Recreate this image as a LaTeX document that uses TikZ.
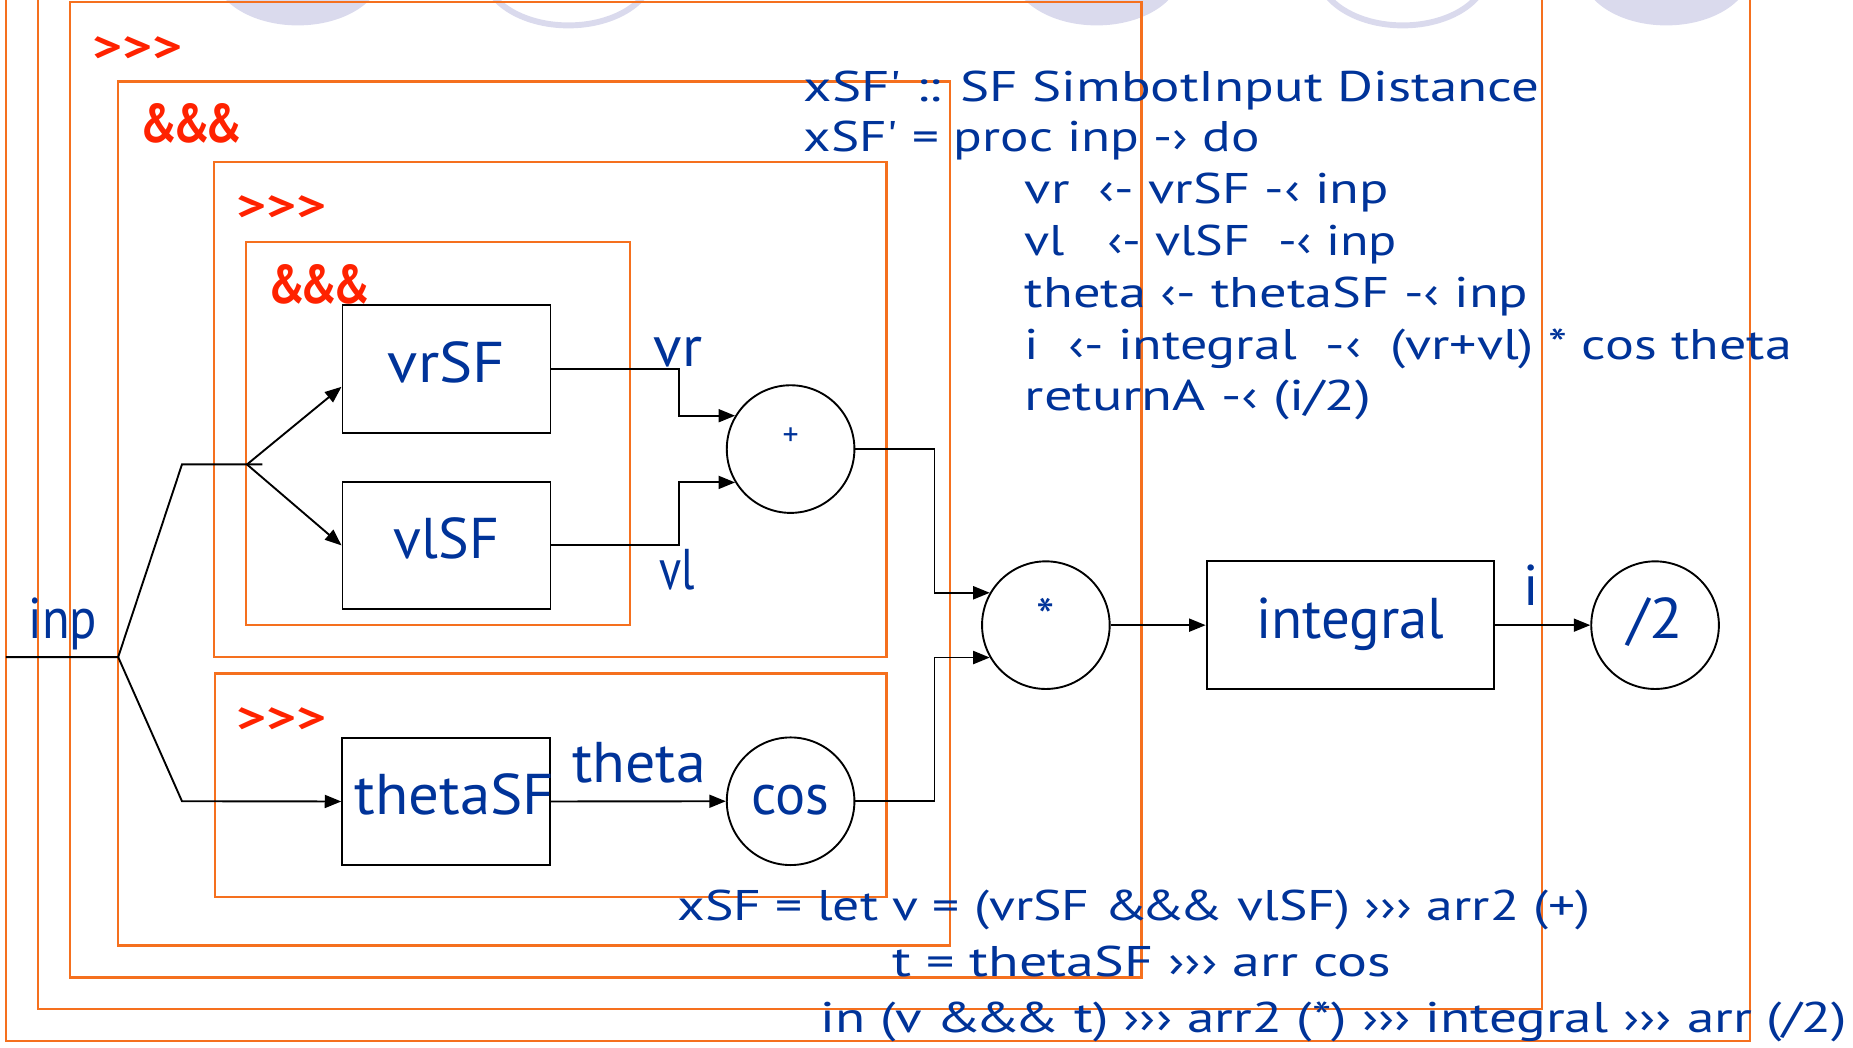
\documentclass[tikz,border=0pt]{standalone}
\usepackage{fontspec}
\usepackage{graphicx}
\newfontfamily\cf{PT Sans}
\usetikzlibrary{arrows.meta,calc}
\definecolor{codeblue}{RGB}{0,51,153}
\definecolor{lblred}{RGB}{255,34,0}
\definecolor{frameor}{RGB}{245,112,30}
\definecolor{deco}{RGB}{218,218,237}
\newcommand{\fw}[2]{\resizebox{#1}{\height}{#2}}
\newcommand{\fwh}[3]{\resizebox{#1}{#2}{#3}}
\newcommand{\sq}{\ifnum\XeTeXcharglyph"27>0 \XeTeXglyph\XeTeXcharglyph"27 \else '\fi}
\newcommand{\amps}{\&\kern-4pt\&\kern-4pt\&}
\begin{document}
\begin{tikzpicture}[x=1pt,y=-1pt,
  frame/.style={draw=frameor, line width=2pt},
  blk/.style={draw=black, line width=1.6pt, rectangle, minimum height=108pt, minimum width=176pt, inner sep=0pt, text=codeblue, font=\cf\fontsize{48.6}{50}\selectfont, text height=34pt, text depth=12pt},
  circ/.style={draw=black, line width=1.6pt, circle, minimum size=108pt, inner sep=0pt, text=codeblue, font=\cf\fontsize{48.6}{50}\selectfont, text height=34pt, text depth=12pt},
  code/.style={anchor=base west, inner sep=0pt, text=codeblue, font=\cf\fontsize{36.3}{40}\selectfont},
  lbl/.style={anchor=base west, inner sep=0pt, text=codeblue, font=\cf\fontsize{48.6}{50}\selectfont},
  op/.style={anchor=base west, inner sep=0pt, text=lblred, font=\cf\bfseries\fontsize{40}{40}\selectfont},
  wire/.style={draw=black, line width=1.6pt},
  arr/.style={wire, -{Triangle[length=14pt,width=11pt]}},
]
\useasboundingbox (0,0) rectangle (1568,886);
\begin{scope}
\clip (0,0) rectangle (1568,886);
% decorative template shapes
\fill[deco] (252,-25) ellipse [x radius=72, y radius=46.5];
\draw[deco, line width=5pt] (481,-25) ellipse [x radius=72, y radius=46.5];
\fill[deco] (928,-25) ellipse [x radius=72, y radius=46.5];
\draw[deco, line width=5pt] (1187,-25) ellipse [x radius=72, y radius=46.5];
\fill[deco] (1410,-25) ellipse [x radius=72, y radius=46.5];
% combinator frames
\draw[frame] (5,-20) rectangle (1481,881);
\draw[frame] (32,-20) rectangle (1305,854);
\draw[frame] (59,1.5) rectangle (966,827);
\draw[frame] (100,69) rectangle (804,800);
\draw[frame] (181,137) rectangle (750,556);
\draw[frame] (208,205) rectangle (533,529);
\draw[frame] (182,570) rectangle (750,759);
\end{scope}

% operator labels
\node[op] (o3) at (78,52) {\fwh{76pt}{21pt}{>>>}};
\node[op] (o4) at (119,121) {\fwh{86pt}{33pt}{\&\kern-4pt\&\kern-4pt\&}};
\node[op] (o5) at (200,187) {\fwh{76pt}{21pt}{>>>}};
\node[op] (o6) at (227,257) {\fwh{86pt}{33pt}{\&\kern-4pt\&\kern-4pt\&}};
\node[op] (o7) at (200,620) {\fwh{76pt}{21pt}{>>>}};

% blocks
\node[blk] (vrSF) at (377.8,312.3) {\fw{99pt}{vrSF}};
\node[blk] (vlSF) at (377.8,461.5) {\fw{89pt}{vlSF}};
\node[blk] (thetaSF) at (377.6,678.2) {\fw{169pt}{thetaSF}\hspace*{-14pt}};
\node[blk, minimum width=243pt] (integ) at (1142.5,529) {\fw{159pt}{integral}};
\node[circ, font=\cf\fontsize{27}{27}\selectfont, text height=0pt, text depth=6pt] (plus) at (669,380) {+};
\node[circ, font=\cf\fontsize{44}{44}\selectfont, text height=18pt, text depth=0pt] (star) at (885,529) {*};
\node[circ] (cosn) at (669,678) {\fw{66pt}{cos}};
\node[circ] (half) at (1400.5,529) {\fw{47pt}{/2}};

% wires
\coordinate (inpL) at (5,556);
\coordinate (fork) at (100,556);
\coordinate (up) at (154,393);
\coordinate (split) at (209,393);
\coordinate (stub) at (222,393);
\coordinate (dn) at (154,678);
\draw[wire] (inpL) -- (fork) -- (up) -- (stub);
\draw[arr] (split) -- ($(vrSF.west)+(0,15)$);
\draw[arr] (split) -- (vlSF.west);
\draw[arr] (fork) -- (dn) -- (thetaSF.west);
\draw[arr] (vrSF.east) -- ++(108,0) |- (plus.149);
\draw[arr] (vlSF.east) -- ++(108,0) |- (plus.211);
\draw[arr] (plus.east) -- ++(67,0) |- (star.150);
\draw[arr] (cosn.east) -- ++(67,0) |- (star.210);
\draw[arr] (thetaSF.east) -- (cosn.west);
\draw[arr] (star.east) -- (integ.west);
\draw[arr] (integ.east) -- (half.west);

% wire labels
\node[lbl] (linp) at (24,540) {\fw{58pt}{inp}};
\node[lbl] (lvr) at (553,310) {\fw{41pt}{vr}};
\node[lbl] (lvl) at (558,499) {\fw{30pt}{vl}};
\node[lbl] (ltheta) at (484,662) {\fw{113pt}{theta}};
\node[lbl] (li) at (1289,512) {i};

% arrow-notation code
\node[code] (c1) at (680,86) {\fw{622pt}{xSF\sq{} :: SF SimbotInput Distance}};
\node[code] (c2) at (680,128.3) {\fw{386pt}{xSF\sq{} = proc inp -› do}};
\node[code] (c3) at (867,172.6) {\fw{308pt}{vr\ \ ‹- vrSF -‹ inp}};
\node[code] (c4) at (867,216) {\fw{315pt}{vl\ \ \ ‹- vlSF\ \ -‹ inp}};
\node[code] (c5) at (867,260) {\fw{426pt}{theta ‹- thetaSF -‹ inp}};
\node[code] (c6) at (867,304) {\fw{649pt}{i\ \ ‹- integral\ \ -‹\ \ (vr+vl) * cos theta}};
\node[code] (c7) at (867,347.5) {\fw{293pt}{returnA -‹ (i/2)}};

% combinator code
\node[code] (b1) at (573,778.5) {\fw{773pt}{xSF = let v = (vrSF \amps{} vlSF) ››› arr2 (+)}};
\node[code] (b2) at (755,826.5) {\fw{422pt}{t = thetaSF ››› arr cos}};
\node[code] (b3) at (694,874) {\fw{869pt}{in (v \amps{} t) ››› arr2 (*) ››› integral ››› arr (/2)}};
\end{tikzpicture}
\end{document}
